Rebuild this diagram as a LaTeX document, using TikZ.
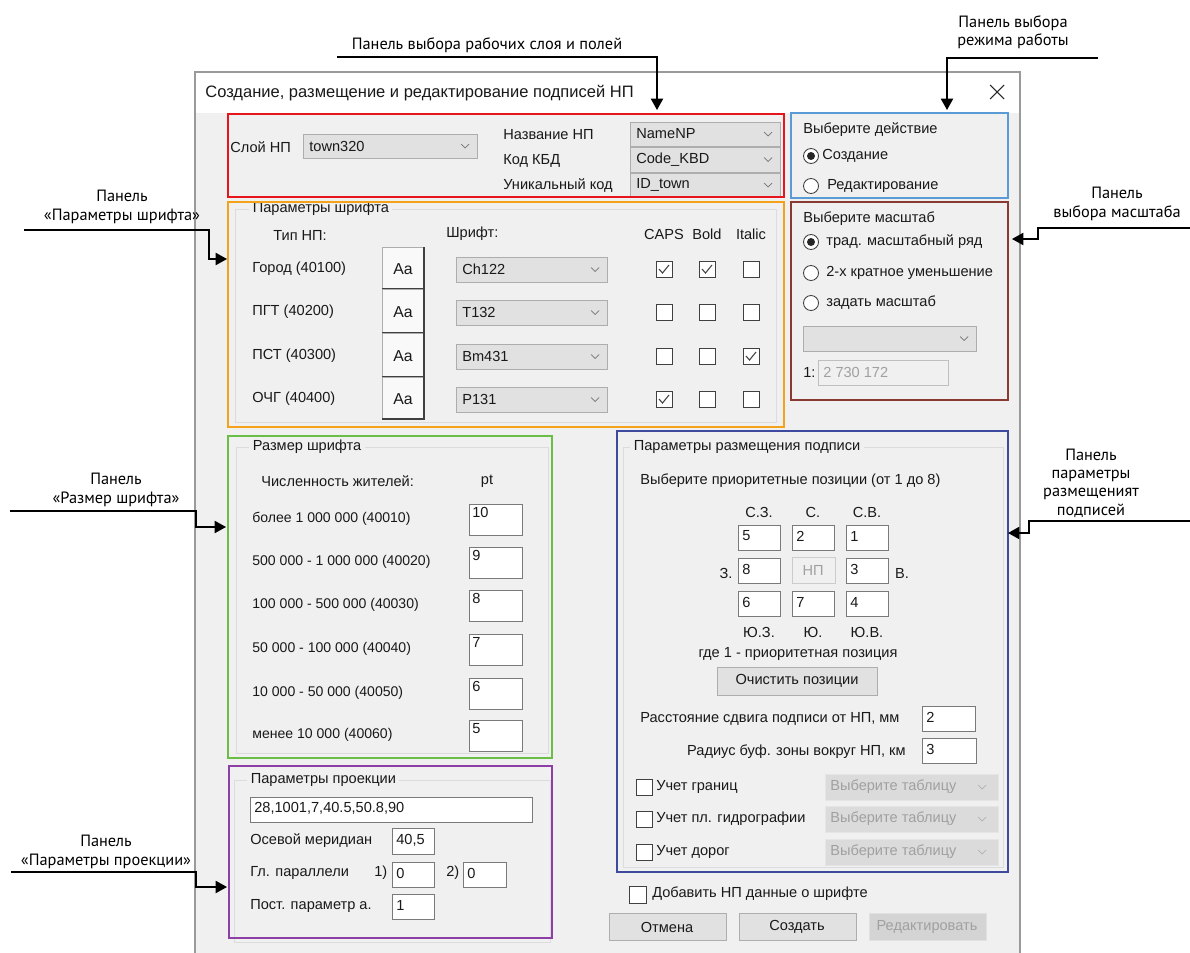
\documentclass[tikz,border=0pt]{standalone}
\usepackage{fontspec}
\setmainfont{Liberation Sans}
\newfontfamily\notefont{PT Sans}
\usepackage{xcolor}
\definecolor{WinGray}{HTML}{F0F0F0}
\definecolor{WinEdge}{HTML}{9A9A9A}
\definecolor{CtrlFill}{HTML}{E1E1E1}
\definecolor{CtrlEdge}{HTML}{ADADAD}
\definecolor{BoxEdge}{HTML}{7A7A7A}
\definecolor{GroupLine}{HTML}{DCDCDC}
\definecolor{OffText}{HTML}{A0A0A0}
\definecolor{PanRed}{HTML}{E8141B}
\definecolor{PanBlue}{HTML}{5B9BD5}
\definecolor{PanOrange}{HTML}{F5A21B}
\definecolor{PanBrown}{HTML}{8B3A33}
\definecolor{PanGreen}{HTML}{6BBE45}
\definecolor{PanNavy}{HTML}{3E4A9E}
\definecolor{PanPurple}{HTML}{8E3FA5}
\usepackage{tikz}
\usetikzlibrary{arrows.meta, positioning, calc, fit}

% combo box: name, x1, y1, x2, y2, text
\newcommand{\uicombo}[6]{%
  \draw[combo] (#2,#3) rectangle (#4,#5);
  \draw[chev] ($(#4,#3)!0.5!(#4,#5)+(-16,-2)$) -- ++(4,4) -- ++(4,-4);
  \node[ui, anchor=west] (#1) at ($(#2,#3)!0.5!(#2,#5)+(6,0)$) {#6};}
% text field: name, x1, y1, x2, y2, text
\newcommand{\uifield}[6]{%
  \draw[field] (#2,#3) rectangle (#4,#5);
  \node[ui, anchor=west] (#1) at ($(#2,#3)!0.5!(#2,#5)+(4,-1)$) {#6};}

\begin{document}
\begin{tikzpicture}[
    x=0.02cm, y=-0.02cm,
    ui/.style={inner sep=0pt, text=black!90, font=\fontsize{8.3}{10}\selectfont},
    grayed/.style={ui, text=OffText},
    grouptitle/.style={ui, fill=WinGray, inner xsep=2pt, inner ysep=1pt},
    note/.style={align=center, inner sep=0pt, font=\notefont\fontsize{9.3}{10.4}\selectfont},
    panel/.style={draw, line width=1.1pt, inner sep=0pt},
    groupbox/.style={draw=GroupLine, line width=0.5pt},
    combo/.style={fill=CtrlFill, draw=CtrlEdge, line width=0.5pt},
    field/.style={fill=white, draw=BoxEdge, line width=0.5pt},
    chkbox/.style={fill=white, draw=black!75, line width=0.5pt},
    checkmark/.style={draw=black!75, line width=0.6pt},
    button/.style={fill=CtrlFill, draw=CtrlEdge, line width=0.5pt},
    chev/.style={draw=black!55, line width=0.4pt},
    lead/.style={-{Triangle[length=6.5pt,width=7pt]}, line width=0.8pt}
  ]
  % --- PAGE AND WINDOW ---
  \useasboundingbox (0,0) rectangle (1190,953);
  \fill[white] (0,0) rectangle (1190,953);
  \fill[WinGray] (195,113) rectangle (1020,953);
  \draw[WinEdge, line width=0.6pt] (195,953) -- (195,72) -- (1020,72) -- (1020,953);
  \node[ui, anchor=west, font=\fontsize{9.4}{11}\selectfont] (title) at (205,93) {Создание, размещение и редактирование подписей НП};
  \draw[black!85, line width=0.6pt] (990,85) -- (1004,99) (990,99) -- (1004,85);

  % --- LAYER PANEL ---
  \node[ui, anchor=west] (lLayer) at (230,147) {Слой НП};
  \uicombo{cLayer}{303}{134}{477}{158}{town320}
  \node[ui, anchor=west] (lName) at (503,135) {Название НП};
  \node[ui, anchor=west] (lCode) at (503,161) {Код КБД};
  \node[ui, anchor=west] (lUid) at (503,186) {Уникальный код};
  \uicombo{cName}{630}{122}{780}{146}{NameNP}
  \uicombo{cCode}{630}{147}{780}{172}{Code\_KBD}
  \uicombo{cUid}{630}{173}{780}{197}{ID\_town}

  % --- MODE PANEL ---
  \node[ui, anchor=west] (lAction) at (803,130) {Выберите действие};
  \draw[chkbox] (811,156) circle (7.5);
  \fill[black!85] (811,156) circle (4);
  \node[ui, anchor=west] (rCreate) at (822,156) {Создание};
  \draw[chkbox] (811,186) circle (7.5);
  \node[ui, anchor=west] (rEdit) at (827,186) {Редактирование};

  % --- SCALE PANEL ---
  \node[ui, anchor=west] (lScale) at (803,219) {Выберите масштаб};
  \foreach \ry/\rt [count=\i] in {242/трад. масштабный ряд, 273/2-х кратное уменьшение, 303/задать масштаб}{
    \draw[chkbox] (811,\ry) circle (7.5);
    \node[ui, anchor=west] (rScale\i) at (826,\ry) {\rt};
  }
  \fill[black!85] (811,242) circle (4);
  \uicombo{cScale}{803}{326}{976}{351}{}
  \node[ui, anchor=west] (lRatio) at (803,372) {1:};
  \draw[fill=WinGray, draw=black!25, line width=0.5pt] (818,360) rectangle (948,385);
  \node[grayed, anchor=west] (vRatio) at (823,372) {2 730 172};

  % --- FONT PANEL ---
  \draw[groupbox] (235,209) rectangle (776,422);
  \node[grouptitle, anchor=west] (gFont) at (249,209) {Параметры шрифта};
  \node[ui, anchor=west] (hType) at (273,235) {Тип НП:};
  \node[ui, anchor=west] (hFace) at (446,234) {Шрифт:};
  \foreach \hx/\hn in {664/CAPS, 707/Bold, 751/Italic}
    \node[ui] (h\hn) at (\hx,234) {\hn};
  \foreach \nm/\ff/\yy/\yt/\yb [count=\i] in {Город (40100)/Ch122/269/247/289, ПГТ (40200)/T132/312/289/333, ПСТ (40300)/Bm431/356/333/377, ОЧГ (40400)/P131/399/377/419}{
    \node[ui, anchor=west] (type\i) at (252,\yy) {\nm};
    \draw[fill=white!60!WinGray, draw=CtrlEdge, line width=0.5pt] (382,\yt) rectangle (424,\yb);
    \draw[black!75, line width=0.8pt] (382,\yb) -- (424,\yb) -- (424,\yt);
    \node[ui, font=\fontsize{9}{10}\selectfont] (aa\i) at (403,\yy) {Aa};
    \uicombo{face\i}{456}{\yy-12}{607}{\yy+13}{\ff}
    \foreach \cx in {664,707,751}
      \draw[chkbox] (\cx-8,\yy-8) rectangle (\cx+8,\yy+8);
  }
  \foreach \cx/\cy in {664/269, 707/269, 751/356, 664/399}
    \draw[checkmark] (\cx-5,\cy) -- (\cx-1.5,\cy+4) -- (\cx+5,\cy-4);

  % --- SIZE PANEL ---
  \draw[groupbox] (236,447) rectangle (548,753);
  \node[grouptitle, anchor=west] (gSize) at (249,447) {Размер шрифта};
  \node[ui, anchor=west] (hPop) at (261,481) {Численность жителей:};
  \node[ui] (hPt) at (487,481) {pt};
  \foreach \rt/\rv/\ry [count=\i] in {более 1 000 000 (40010)/10/519, 500 000 - 1 000 000 (40020)/9/562, 100 000 - 500 000 (40030)/8/605, 50 000 - 100 000 (40040)/7/649, 10 000 - 50 000 (40050)/6/693, менее 10 000 (40060)/5/735}{
    \node[ui, anchor=west, font=\fontsize{8}{10}\selectfont] (pop\i) at (252,\ry) {\rt};
    \draw[field] (469,\ry-15) rectangle (522,\ry+16);
    \node[ui, anchor=north west] (pt\i) at (472,\ry-12) {\rv};
  }

  % --- PROJECTION PANEL ---
  \draw[groupbox] (234,780) rectangle (550,942);
  \node[grouptitle, anchor=west] (gProj) at (247,780) {Параметры проекции};
  \uifield{vParams}{250}{797}{532}{822}{28,1001,7,40.5,50.8,90}
  \node[ui, anchor=west] (lMer) at (250,841) {Осевой меридиан};
  \uifield{vMer}{392}{828}{434}{854}{40,5}
  \node[ui, anchor=west] (lPar) at (250,873) {Гл. параллели};
  \node[ui, anchor=west] (lPar1) at (374,873) {1)};
  \uifield{vPar1}{392}{862}{434}{887}{0}
  \node[ui, anchor=west] (lPar2) at (446,873) {2)};
  \uifield{vPar2}{463}{862}{506}{887}{0}
  \node[ui, anchor=west] (lConst) at (250,906) {Пост. параметр а.};
  \uifield{vConst}{392}{894}{434}{919}{1}

  % --- PLACEMENT PANEL ---
  \draw[groupbox] (623,447) rectangle (1003,867);
  \node[grouptitle, anchor=west] (gPlace) at (630,447) {Параметры размещения подписи};
  \node[ui, anchor=west] (hPrio) at (640,481) {Выберите приоритетные позиции (от 1 до 8)};
  \foreach \dx/\dn/\dsn in {759/С.З./Ю.З., 813/С./Ю., 867/С.В./Ю.В.}{
    \node[ui] (n\dx) at (\dx,512) {\dn};
    \node[ui] (s\dx) at (\dx,632) {\dsn};
  }
  \foreach \pv/\pxx/\pyy in {5/759/537, 2/813/537, 1/867/537, 8/759/570, 3/867/570, 6/759/603, 7/813/603, 4/867/603}{
    \draw[field] (\pxx-21,\pyy-12) rectangle (\pxx+21,\pyy+13);
    \node[ui, anchor=west] (pos\pv) at (\pxx-17,\pyy-1) {\pv};
  }
  \draw[fill=WinGray, draw=black!20, line width=0.5pt] (792,557) rectangle (835,583);
  \node[grayed] (posNP) at (813,570) {НП};
  \node[ui] (lWest) at (726,573) {З.};
  \node[ui] (lEast) at (902,573) {В.};
  \node[ui] (hWhere) at (798,654) {где 1 - приоритетная позиция};
  \draw[button] (717,667) rectangle (877,695);
  \node[ui] (bClear) at (797,681) {Очистить позиции};
  \node[ui, anchor=west] (lShift) at (640,719) {Расстояние сдвига подписи от НП, мм};
  \uifield{vShift}{922}{706}{975}{731}{2}
  \node[ui, anchor=east] (lBuf) at (906,752) {Радиус буф. зоны вокруг НП, км};
  \uifield{vBuf}{922}{738}{976}{763}{3}
  \foreach \ct/\cy [count=\i] in {Учет границ/787, Учет пл. гидрографии/819, Учет дорог/852}{
    \draw[chkbox] (636,\cy-8) rectangle (652,\cy+8);
    \node[ui, anchor=west] (chk\i) at (656,\cy) {\ct};
    \draw[fill=black!14, draw=black!10, line width=0.5pt] (825,\cy-13) rectangle (998,\cy+13);
    \node[grayed, anchor=west] (tab\i) at (830,\cy) {Выберите таблицу};
    \draw[chev, draw=black!30] (978,\cy-2) -- ++(4,4) -- ++(4,-4);
  }

  % --- DIALOG BUTTONS ---
  \draw[chkbox] (629,886) rectangle (646,903);
  \node[ui, anchor=west] (chkFont) at (652,894) {Добавить НП данные о шрифте};
  \draw[button] (609,913) rectangle (726,940);
  \node[ui] (bCancel) at (667,927) {Отмена};
  \draw[button] (739,913) rectangle (856,940);
  \node[ui] (bCreate) at (797,927) {Создать};
  \draw[fill=black!17, draw=black!12, line width=0.5pt] (869,913) rectangle (986,940);
  \node[grayed] (bEdit) at (927,927) {Редактировать};

  % --- PANEL FRAMES ---
  \node[panel, draw=PanRed, fit={(228,114) (784,197)}] (pLayer) {};
  \node[panel, draw=PanBlue, fit={(791,113) (1008,198)}] (pMode) {};
  \node[panel, draw=PanOrange, fit={(228,202) (784,427)}] (pFont) {};
  \node[panel, draw=PanBrown, fit={(791,202) (1008,400)}] (pScale) {};
  \node[panel, draw=PanGreen, fit={(228,436) (552,758)}] (pSize) {};
  \node[panel, draw=PanNavy, fit={(617,431) (1008,872)}] (pPlace) {};
  \node[panel, draw=PanPurple, fit={(229,766) (552,938)}] (pProj) {};

  % --- CALLOUTS ---
  \node[note] (nLayer) at (487,45) {Панель выбора рабочих слоя и полей};
  \coordinate (sLayer) at (337,57);
  \coordinate (tLayer) at (657,110);
  \draw[lead] (sLayer) -| (tLayer);

  \node[note] (nMode) at (1013,32) {Панель выбора\\режима работы};
  \coordinate (sMode) at (1098,58);
  \coordinate (tMode) at (947,110);
  \draw[lead] (sMode) -| (tMode);

  \node[note] (nScale) at (1117,204) {Панель\\выбора масштаба};
  \coordinate (sScale) at (1190,228);
  \coordinate (kScale) at (1038,239);
  \coordinate (tScale) at (1012,239);
  \draw[lead] (sScale) -| (kScale) -- (tScale);

  \node[note] (nFont) at (122,207) {Панель\\«Параметры шрифта»};
  \coordinate (sFont) at (24,230);
  \coordinate (kFont) at (209,259);
  \coordinate (tFont) at (227,259);
  \draw[lead] (sFont) -| (kFont) -- (tFont);

  \node[note] (nSize) at (116,490) {Панель\\«Размер шрифта»};
  \coordinate (sSize) at (10,511);
  \coordinate (kSize) at (196,527);
  \coordinate (tSize) at (226,527);
  \draw[lead] (sSize) -| (kSize) -- (tSize);

  \node[note] (nProj) at (106,852) {Панель\\«Параметры проекции»};
  \coordinate (sProj) at (11,872);
  \coordinate (kProj) at (196,887);
  \coordinate (tProj) at (227,887);
  \draw[lead] (sProj) -| (kProj) -- (tProj);

  \node[note] (nPlace) at (1091,483) {Панель\\параметры\\размещеният\\подписей};
  \coordinate (sPlace) at (1190,521);
  \coordinate (kPlace) at (1029,533);
  \coordinate (tPlace) at (1008,533);
  \draw[lead] (sPlace) -| (kPlace) -- (tPlace);
\end{tikzpicture}
\end{document}
